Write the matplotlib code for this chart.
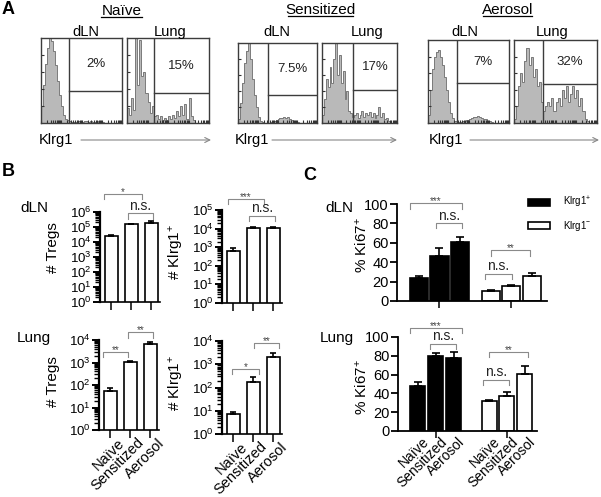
import numpy as np
import matplotlib
matplotlib.use('Agg')
import matplotlib.pyplot as plt
from matplotlib.ticker import LogLocator, FixedLocator, NullFormatter, FuncFormatter
from matplotlib.transforms import ScaledTranslation

plt.rcParams['font.family'] = ['Liberation Sans', 'DejaVu Sans']
plt.rcParams['mathtext.fontset'] = 'custom'
plt.rcParams['mathtext.rm'] = 'Liberation Sans'
plt.rcParams['mathtext.it'] = 'Liberation Sans:italic'
plt.rcParams['mathtext.bf'] = 'Liberation Sans:bold'

# ---------------- data ----------------
conditions = ['Naïve', 'Sensitized', 'Aerosol']
tissues = ['dLN', 'Lung']

# Panel A: Klrg1 histograms (relative bin heights) and gated percentages
pct_dln = ['2%', '7.5%', '7%']
pct_lung = ['15%', '17%', '32%']
hist_naive_dln = [0.2, 0.45, 0.7, 0.88, 1.0, 0.97, 0.85, 0.68, 0.5, 0.33, 0.2, 0.1, 0.05, 0.03, 0.02,
                  0.01, 0.01, 0.01, 0.02, 0.02, 0.01, 0.02, 0.02, 0.01, 0.02, 0.01, 0.01, 0.02, 0.01,
                  0.01, 0.01, 0, 0, 0, 0, 0, 0, 0, 0, 0]
hist_naive_lung = [0.18, 0.1, 0.3, 0.15, 1.0, 0.45, 0.98, 0.55, 0.6, 0.35, 0.25, 0.12, 0.2, 0.08, 0.1,
                   0.05, 0.08, 0.03, 0.06, 0.04, 0.08, 0.05, 0.1, 0.06, 0.14, 0.08, 0.2, 0.1, 0.22,
                   0.05, 0.3, 0.08, 0.03, 0, 0, 0, 0, 0, 0, 0]
hist_sens_dln = [0.05, 0.25, 0.5, 0.75, 0.9, 1.0, 0.8, 0.55, 0.35, 0.2, 0.08, 0.03, 0.01, 0, 0, 0,
                 0.01, 0.02, 0.03, 0.04, 0.05, 0.06, 0.06, 0.07, 0.06, 0.07, 0.05, 0.04, 0.03, 0.02,
                 0.01, 0, 0, 0, 0, 0, 0, 0, 0, 0]
hist_sens_lung = [0.1, 0.3, 0.55, 0.45, 0.7, 0.5, 0.8, 1.0, 0.6, 0.85, 0.5, 0.65, 0.3, 0.4, 0.15, 0.12,
                  0.08, 0.1, 0.12, 0.06, 0.1, 0.15, 0.08, 0.12, 0.1, 0.14, 0.08, 0.12, 0.06, 0.1, 0.2,
                  0.08, 0.12, 0.05, 0.06, 0.03, 0, 0, 0, 0]
hist_aero_dln = [0.1, 0.4, 0.65, 0.8, 0.86, 0.88, 0.8, 0.7, 0.55, 0.4, 0.25, 0.12, 0.06, 0.03, 0.02,
                 0.01, 0.01, 0.02, 0.03, 0.04, 0.05, 0.06, 0.07, 0.07, 0.08, 0.07, 0.06, 0.05, 0.05,
                 0.03, 0.02, 0.01, 0, 0, 0, 0, 0, 0, 0, 0]
hist_aero_lung = [0.05, 0.2, 0.45, 0.6, 0.5, 0.75, 0.9, 0.7, 0.8, 0.55, 0.65, 0.45, 0.5, 0.25, 0.15,
                  0.2, 0.25, 0.2, 0.3, 0.15, 0.25, 0.3, 0.2, 0.4, 0.3, 0.45, 0.25, 0.35, 0.45, 0.3,
                  0.4, 0.2, 0.3, 0.15, 0.05, 0.02, 0, 0, 0, 0]

# Panel B: cell numbers (mean, upper error)
tregs_dln = [2.6e4, 1.5e5, 1.8e5]
tregs_dln_err = [0.3e4, 0.15e5, 0.7e5]
klrg1_dln = [650, 1.05e4, 1.1e4]
klrg1_dln_err = [220, 0.1e4, 0.17e4]
tregs_lung = [56, 1090, 6600]
tregs_lung_err = [15, 80, 1300]
klrg1_lung = [7.1, 178, 2000]
klrg1_lung_err = [1.5, 97, 960]

# Panel C: % Ki67+ (mean, upper error)
ki67_dln_pos = [23.4, 46.7, 61.1]
ki67_dln_pos_err = [2.4, 8.3, 5.2]
ki67_dln_neg = [10.6, 15.5, 26.1]
ki67_dln_neg_err = [1.0, 1.3, 3.1]
ki67_lung_pos = [48.2, 80.1, 77.3]
ki67_lung_pos_err = [4.3, 2.5, 6.4]
ki67_lung_neg = [31.9, 37.2, 60.3]
ki67_lung_neg_err = [1.1, 4.6, 8.8]
series_names = ['Klrg1$^{+}$', 'Klrg1$^{-}$']

# ---------------- figure ----------------
W, H = 601, 497
fig = plt.figure(figsize=(W / 100, H / 100), dpi=100)


def px_axes(x0, y0, x1, y1):
    return fig.add_axes([x0 / W, 1 - y1 / H, (x1 - x0) / W, (y1 - y0) / H])


def shift_labels(labels, dx, dy):
    for lab in labels:
        lab.set_transform(lab.get_transform() + ScaledTranslation(dx / 100, -dy / 100, fig.dpi_scale_trans))


ov = px_axes(0, 0, W, H)
ov.set_xlim(0, W)
ov.set_ylim(H, 0)
ov.axis('off')
ov.set_zorder(10)

# ---------- Panel A ----------
decade_ticks = [d + 0.25 * np.log10(k) for d in (0, 0.25, 0.5, 0.75) for k in range(1, 10)]


def facs(rect, heights, gx, gy, pct):
    ax = px_axes(*rect)
    edges = np.linspace(0, 1, len(heights) + 1)
    ax.stairs(heights, edges, fill=True, color='#b9b9b9', lw=0)
    ax.stairs(heights, edges, color='#7a7a7a', lw=0.7)
    ax.set_xlim(0, 1)
    ax.set_ylim(0, 1.0)
    ax.axvline(gx, color='#3c3c3c', lw=1)
    ax.axhline(gy, xmin=gx, xmax=1, color='#3c3c3c', lw=1)
    ax.text((gx + 1) / 2, (gy + 1) / 2, pct, ha='center', va='center', fontsize=9.5,
            transform=ax.transAxes, color='#222222')
    for s in ax.spines.values():
        s.set_color('#3c3c3c')
        s.set_linewidth(1)
    ax.set_xticks(decade_ticks)
    ax.set_yticks([0.2, 0.4, 0.6, 0.8])
    ax.tick_params(direction='in', length=2.2, width=0.8, colors='#333333',
                   labelbottom=False, labelleft=False)
    return ax


facs((41, 38, 122, 123), hist_naive_dln, 0.35, 0.38, pct_dln[0])
facs((127, 38, 209, 123), hist_naive_lung, 0.33, 0.35, pct_lung[0])
facs((238, 43, 317, 123), hist_sens_dln, 0.38, 0.35, pct_dln[1])
facs((322, 43, 397, 123), hist_sens_lung, 0.41, 0.41, pct_lung[1])
facs((428, 40, 509, 123), hist_aero_dln, 0.36, 0.48, pct_dln[2])
facs((514, 40, 597, 123), hist_aero_lung, 0.35, 0.47, pct_lung[2])

title_pos = [(122, 11, 101, 142), (320, 10, 288, 353), (508, 10, 483, 532)]
for name, (cx, cy, u0, u1) in zip(conditions, title_pos):
    ov.text(cx, cy, name, ha='center', va='center', fontsize=11)
    ov.plot([u0, u1], [cy + 6, cy + 6], color='black', lw=0.9)
col_pos = [(86, 170), (277, 367), (465, 552)]
for (xd, xl) in col_pos:
    ov.text(xd, 32, tissues[0], ha='center', va='center', fontsize=10.5)
    ov.text(xl, 32, tissues[1], ha='center', va='center', fontsize=10.5)
for (kx, a0, a1) in [(39, 81, 211), (235, 272, 397), (429, 470, 599)]:
    ov.text(kx, 140, 'Klrg1', ha='left', va='center', fontsize=10.5)
    ov.annotate('', xy=(a1, 140), xytext=(a0, 140),
                arrowprops=dict(arrowstyle='->', color='#888888', lw=0.8, shrinkA=0, shrinkB=0,
                                mutation_scale=9))

# ---------- Panel B ----------
def bar_log(rect, vals, errs, top_exp, show_x):
    ax = px_axes(*rect)
    x = np.arange(len(vals))
    ax.set_yscale('log')
    ax.bar(x, vals, width=0.65, color='white', edgecolor='black', linewidth=1.2, zorder=2)
    ax.errorbar(x, vals, yerr=[np.zeros(len(vals)), errs], fmt='none', ecolor='black',
                elinewidth=1.2, capsize=2.5, capthick=1.2, zorder=3)
    ax.set_ylim(1, 10 ** top_exp)
    ax.set_xlim(-0.55, 2.45)
    ax.yaxis.set_major_locator(FixedLocator([10.0 ** k for k in range(top_exp + 1)]))
    ax.yaxis.set_major_formatter(FuncFormatter(lambda v, p: '$10^{%d}$' % int(round(np.log10(v)))))
    ax.yaxis.set_minor_locator(LogLocator(base=10, subs=np.arange(2, 10), numticks=30))
    ax.yaxis.set_minor_formatter(NullFormatter())
    for s in ('top', 'right'):
        ax.spines[s].set_visible(False)
    ax.spines['left'].set_linewidth(1.6)
    ax.spines['bottom'].set_linewidth(1.2)
    ax.tick_params(axis='y', which='major', length=5, width=1.4, labelsize=9.5, pad=1)
    ax.tick_params(axis='y', which='minor', length=3.5, width=1.0)
    ax.set_xticks(x)
    ax.tick_params(axis='x', length=6, width=1.1, pad=-2)
    if show_x:
        ax.set_xticklabels(conditions, rotation=45, ha='right', rotation_mode='anchor', fontsize=10.5)
        shift_labels(ax.get_xticklabels(), 7, 0)
    else:
        ax.set_xticklabels([])
    return ax


bar_log((100, 212, 160, 302), tregs_dln, tregs_dln_err, 6, False)
bar_log((222, 210, 282, 303), klrg1_dln, klrg1_dln_err, 5, False)
bar_log((99, 340, 159, 430), tregs_lung, tregs_lung_err, 4, True)
bar_log((222, 341, 282, 434), klrg1_lung, klrg1_lung_err, 4, True)

for (lx, ly, txt) in [(53, 248, '# Tregs'), (177, 252, '# Klrg1$^{+}$'),
                      (53, 382, '# Tregs'), (177, 383, '# Klrg1$^{+}$')]:
    ov.text(lx, ly, txt, rotation=90, ha='center', va='center', fontsize=11)

# ---------- Panel C ----------
def bar_ki67(rect, pos_p, pos_n, vp, ep, vn, en, width, xlim, ticks, show_x):
    ax = px_axes(*rect)
    hpx = rect[3] - rect[1]
    ax.bar(pos_p, vp, width=width, color='black', edgecolor='black', linewidth=1.2, zorder=2,
           label=series_names[0])
    ax.bar(pos_n, vn, width=width, color='white', edgecolor='black', linewidth=1.2, zorder=2,
           label=series_names[1])
    ax.errorbar(pos_p, vp, yerr=[np.zeros(3), ep], fmt='none', ecolor='black', elinewidth=1.2,
                capsize=3, capthick=1.2, zorder=3)
    ax.errorbar(pos_n, vn, yerr=[np.zeros(3), en], fmt='none', ecolor='black', elinewidth=1.2,
                capsize=3, capthick=1.2, zorder=3)
    ax.set_ylim(0, 100)
    ax.set_xlim(*xlim)
    ax.set_yticks([0, 20, 40, 60, 80, 100])
    for s in ('top', 'right'):
        ax.spines[s].set_visible(False)
    ax.spines['left'].set_linewidth(1.3)
    ax.spines['bottom'].set_linewidth(1.3)
    ax.tick_params(axis='y', length=5, width=1.3, labelsize=10.5, pad=1)
    # group tick marks below the axis
    ax.vlines(ticks, -7.0 / hpx, 0, transform=ax.get_xaxis_transform(), clip_on=False,
              color='black', lw=1.1)
    ax.set_xticks(list(pos_p) + list(pos_n))
    ax.tick_params(axis='x', length=0, pad=2.5)
    if show_x:
        ax.set_xticklabels(conditions * 2, rotation=45, ha='right', rotation_mode='anchor',
                           fontsize=10)
        shift_labels(ax.get_xticklabels(), 4, 0)
    else:
        ax.set_xticklabels([])
    return ax


axc = bar_ki67((397, 204, 547, 301), [0, 1, 2], [3.5, 4.5, 5.5], ki67_dln_pos, ki67_dln_pos_err,
               ki67_dln_neg, ki67_dln_neg_err, 0.88, (-1.07, 6.24), [1, 4.5], False)
bar_ki67((398, 337, 537, 431), [0, 1, 2], [4, 5, 6], ki67_lung_pos, ki67_lung_pos_err,
         ki67_lung_neg, ki67_lung_neg_err, 0.85, (-1.12, 6.69), [1, 5], True)

for (lx, ly) in [(362, 245), (362, 387)]:
    ov.text(lx, ly, '% Ki67$^{+}$', rotation=90, ha='center', va='center', fontsize=11)

h, l = axc.get_legend_handles_labels()
fig.legend(h, l, loc='upper left', bbox_to_anchor=(528 / W, 1 - 195 / H), frameon=False,
           fontsize=7, handlelength=2.3, handleheight=0.75, handletextpad=1.3, labelspacing=0.85,
           borderpad=0, borderaxespad=0)

# ---------- significance brackets ----------
brackets = [
    (104, 142, 194, 199, '*'), (128, 153, 213, 219, 'n.s.'),
    (228, 264, 199, 204, '***'), (249, 275, 216, 221, 'n.s.'),
    (103, 128, 352, 357, '**'), (128, 153, 332, 338, '**'),
    (232, 259, 369, 374, '*'), (254, 279, 343, 348, '**'),
    (410, 462, 203, 209, '***'), (436, 462, 223, 228, 'n.s.'),
    (491, 530, 250, 256, '**'), (485, 512, 274, 279, 'n.s.'),
    (410, 462, 328, 333, '***'), (430, 456, 344, 349, 'n.s.'),
    (489, 528, 352, 357, '**'), (483, 509, 380, 385, 'n.s.'),
]
for (x0, x1, yt, yb, lab) in brackets:
    ov.plot([x0, x0, x1, x1], [yb, yt, yt, yb], color='#8a8a8a', lw=0.8)
    if lab == 'n.s.':
        ov.text((x0 + x1) / 2, yt - 0.5, lab, ha='center', va='bottom', fontsize=10, color='#222222')
    else:
        ov.text((x0 + x1) / 2, yt - 2, lab, ha='center', va='center', fontsize=7, color='#444444')

# ---------- panel and row labels ----------
ov.text(8, 9, 'A', ha='center', va='center', fontsize=13, fontweight='bold')
ov.text(8, 172, 'B', ha='center', va='center', fontsize=13, fontweight='bold')
ov.text(310, 175, 'C', ha='center', va='center', fontsize=13, fontweight='bold')
ov.text(34, 208, 'dLN', ha='center', va='center', fontsize=11)
ov.text(34, 338, 'Lung', ha='center', va='center', fontsize=11)
ov.text(339, 208, 'dLN', ha='center', va='center', fontsize=11)
ov.text(337, 338, 'Lung', ha='center', va='center', fontsize=11)

fig.savefig('out.png', dpi=100)
